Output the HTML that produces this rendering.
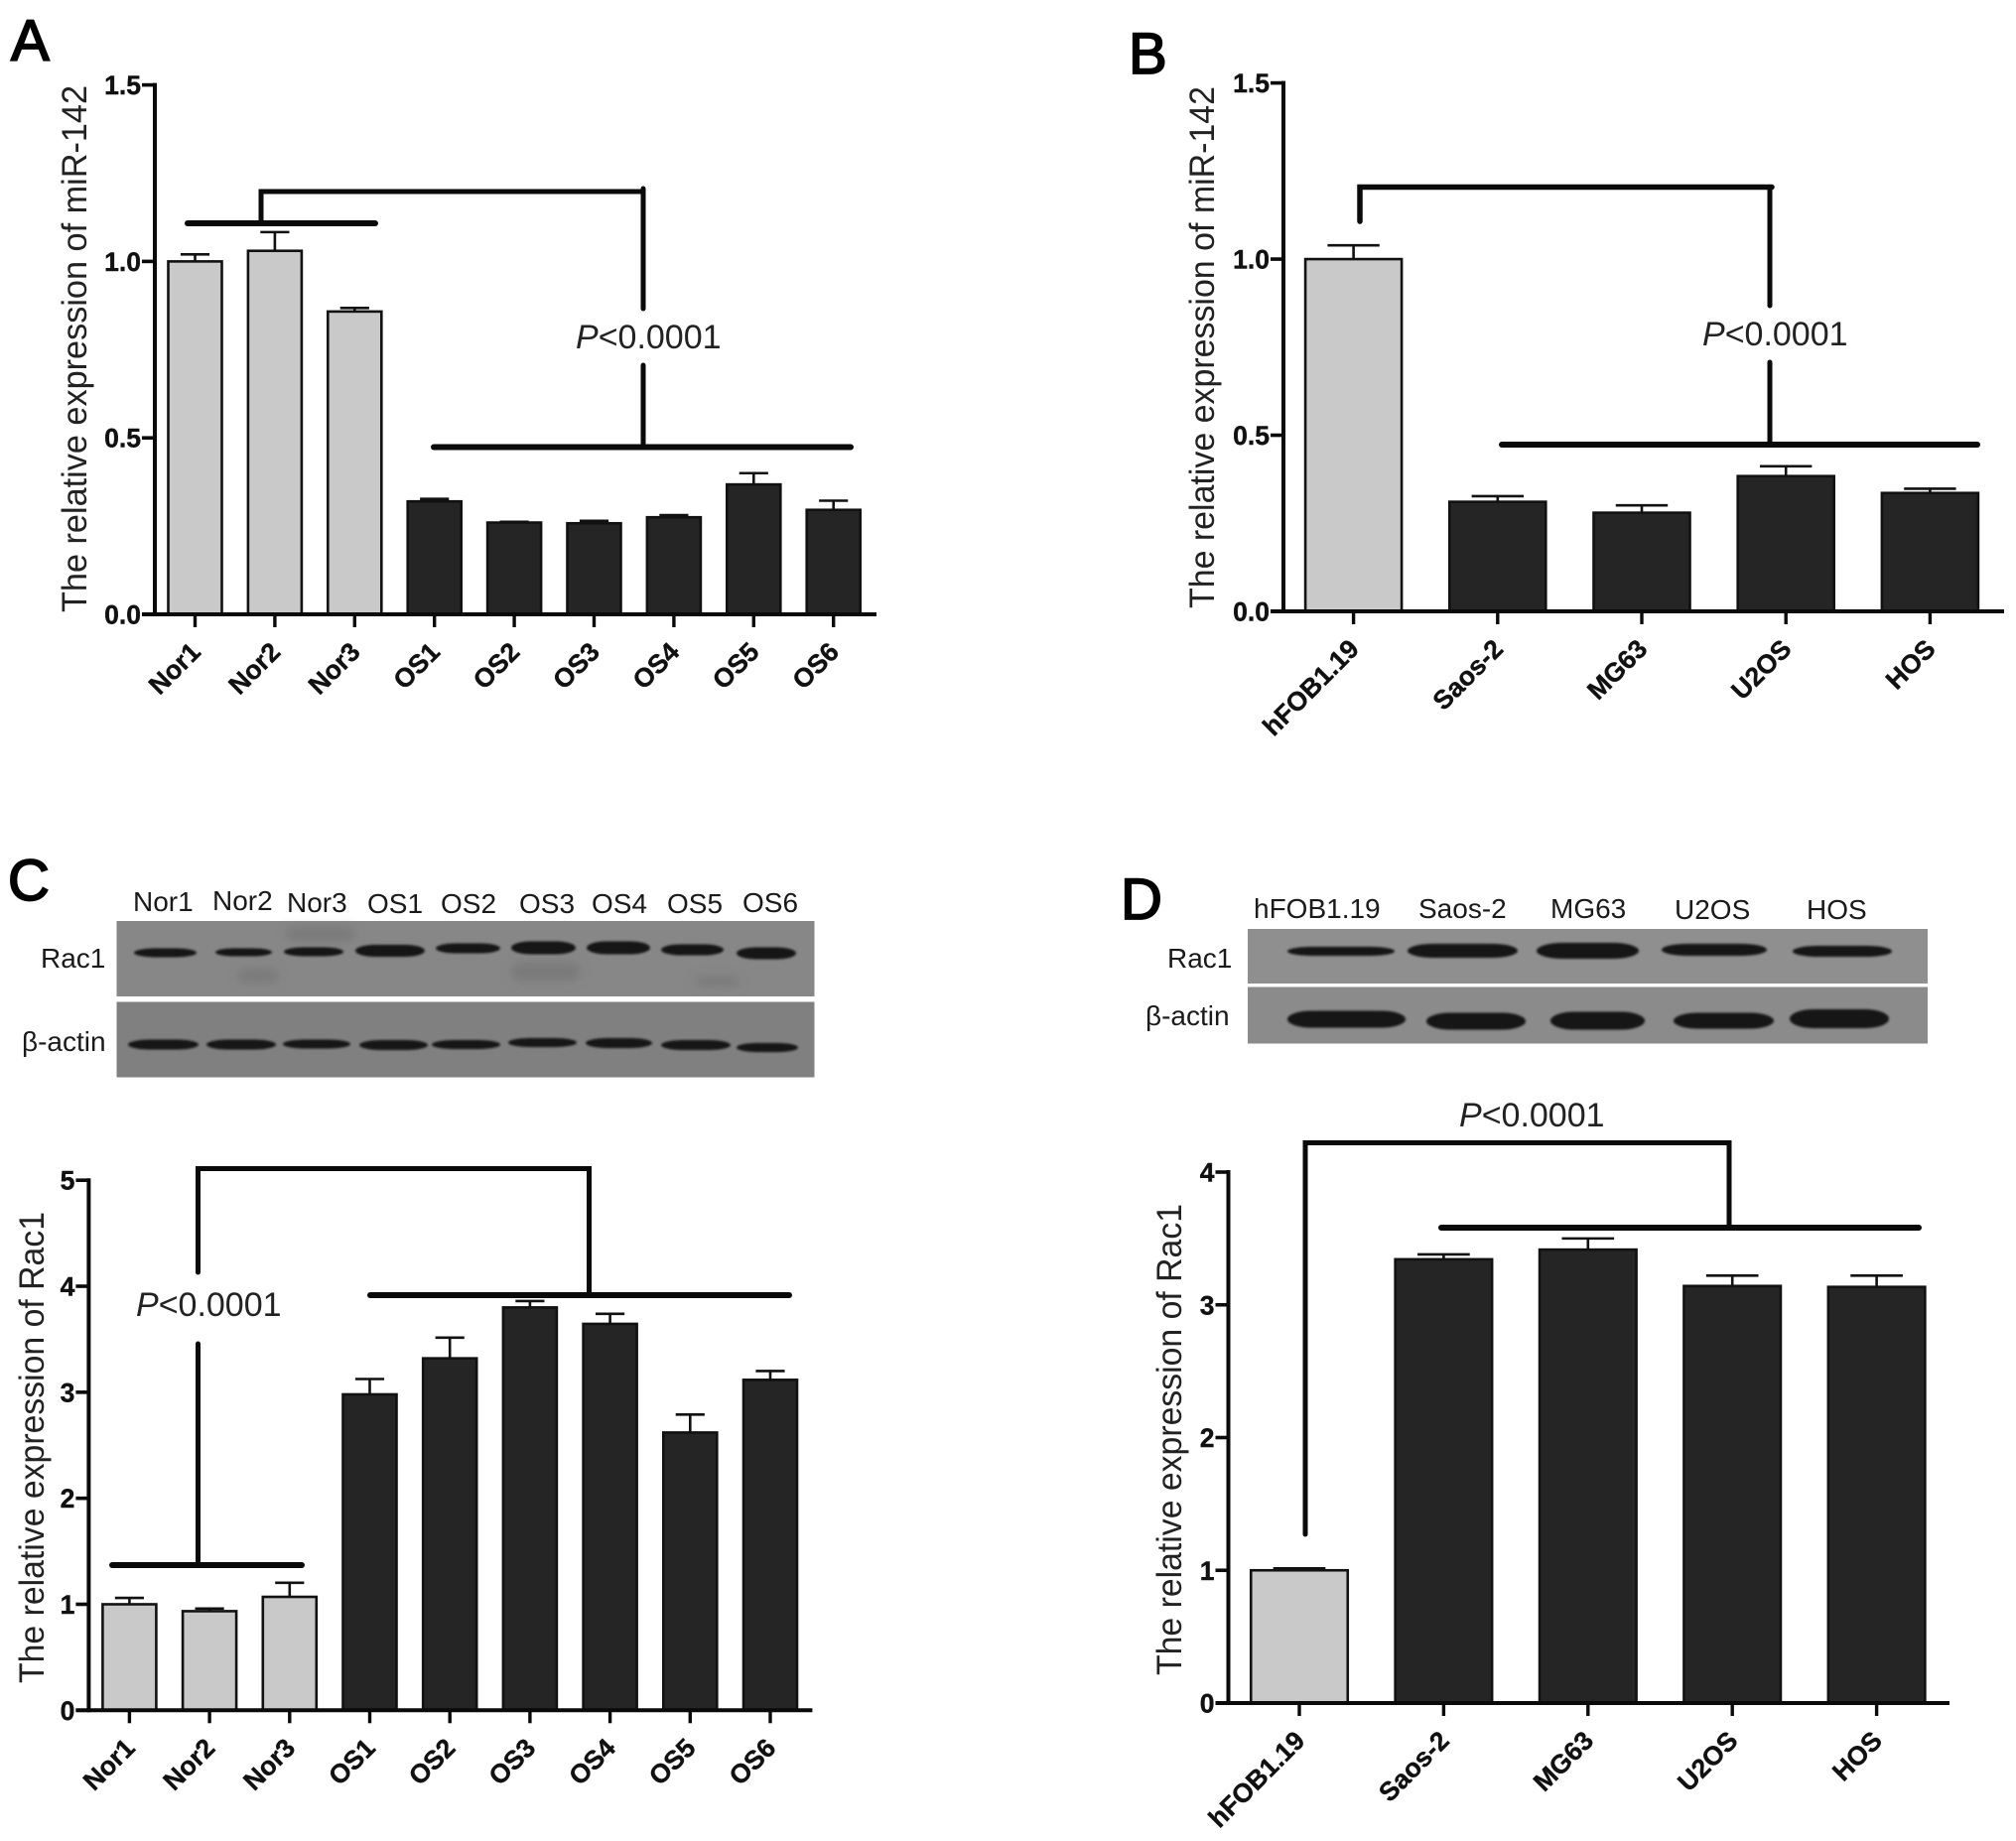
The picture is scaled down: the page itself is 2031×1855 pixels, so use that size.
<!DOCTYPE html>
<html lang="en">
<head>
<meta charset="utf-8">
<title>miR-142 and Rac1 expression in osteosarcoma</title>
<style>
html,body{margin:0;padding:0;background:#fff;}
#figure{position:absolute;left:0;top:0;display:block;}
text{font-family:"Liberation Sans",sans-serif;fill:#111;}
.letter{font-size:58px;stroke:#000;stroke-width:1.8px;fill:#000;}
.ytitle{font-size:35px;fill:#222;}
.ptext{font-size:34px;fill:#222;}
.blotlabel{font-size:28px;fill:#1a1a1a;}
.tick-label{font-size:26.5px;font-weight:bold;fill:#111;stroke:#111;stroke-width:0.4px;}
.cat-label{font-size:26.5px;font-weight:bold;fill:#111;stroke:#111;stroke-width:0.4px;}
.br{stroke:#0a0a0a;stroke-linecap:round;fill:none;}
.band{fill:#141414;}
.smudge{fill:#6f6f6f;opacity:.55;}
</style>
</head>
<body>
<svg id="figure" xmlns="http://www.w3.org/2000/svg" width="2031" height="1855" viewBox="0 0 2031 1855">
<defs>
<filter id="soft" x="-20%" y="-100%" width="140%" height="300%"><feGaussianBlur stdDeviation="1.1"/></filter>
<filter id="haze" x="-40%" y="-100%" width="180%" height="300%"><feGaussianBlur stdDeviation="5"/></filter>
</defs>
<rect x="0" y="0" width="2031" height="1855" fill="#ffffff"/>

<text class="letter" x="11" y="61">A</text>
<text class="letter" x="1137" y="74">B</text>
<text class="letter" x="8" y="907">C</text>
<text class="letter" x="1129" y="926">D</text>

<text class="ytitle" transform="translate(87,617) rotate(-90)" textLength="531" lengthAdjust="spacingAndGlyphs">The relative expression of miR-142</text>
<text class="ytitle" transform="translate(1223,613) rotate(-90)" textLength="526" lengthAdjust="spacingAndGlyphs">The relative expression of miR-142</text>
<text class="ytitle" transform="translate(44,1696) rotate(-90)" textLength="475" lengthAdjust="spacingAndGlyphs">The relative expression of Rac1</text>
<text class="ytitle" transform="translate(1190,1688) rotate(-90)" textLength="475" lengthAdjust="spacingAndGlyphs">The relative expression of Rac1</text>

<g id="charts"></g>

<g>
<path class="br" stroke-width="5" d="M263 224V193H648"/>
<path class="br" stroke-width="6" d="M189 225H378"/>
<path class="br" stroke-width="5" d="M648 190V311"/>
<path class="br" stroke-width="5" d="M648 368V450"/>
<path class="br" stroke-width="6" d="M437 450.500H857"/>
<text class="ptext" x="580" y="351"><tspan font-style="italic">P</tspan>&lt;0.0001</text>
</g>

<g>
<path class="br" stroke-width="5.500" d="M1370 223V188.500H1785"/>
<path class="br" stroke-width="5" d="M1783 189V308"/>
<path class="br" stroke-width="5" d="M1783 365V448"/>
<path class="br" stroke-width="6" d="M1513 448H1992"/>
<text class="ptext" x="1715" y="348"><tspan font-style="italic">P</tspan>&lt;0.0001</text>
</g>

<g>
<path class="br" stroke-width="5" d="M199.500 1282V1177.500H593.500V1305"/>
<path class="br" stroke-width="5" d="M199.500 1354V1573"/>
<path class="br" stroke-width="6" d="M373 1305H795"/>
<path class="br" stroke-width="6" d="M113 1577H304"/>
<text class="ptext" x="137" y="1326"><tspan font-style="italic">P</tspan>&lt;0.0001</text>
</g>

<g>
<path class="br" stroke-width="5" d="M1315 1546V1151.500H1742V1235"/>
<path class="br" stroke-width="6" d="M1452 1237H1933"/>
<text class="ptext" x="1470" y="1135"><tspan font-style="italic">P</tspan>&lt;0.0001</text>
</g>

<g>
<rect x="117.500" y="928" width="703" height="76" fill="#878787"/>
<rect x="117.500" y="1009.500" width="703" height="76" fill="#808080"/>
<g filter="url(#haze)">
<rect class="smudge" x="288" y="934" width="70" height="14" rx="7"/>
<rect class="smudge" x="240" y="976" width="40" height="14" rx="7"/>
<rect class="smudge" x="515" y="970" width="70" height="18" rx="9"/>
<rect class="smudge" x="700" y="984" width="45" height="10" rx="5"/>
</g>
<g filter="url(#soft)">
<rect class="band" x="135" y="955.500" width="63" height="9" rx="22" ry="4.500"/>
<rect class="band" x="217" y="955.500" width="57" height="8" rx="20" ry="4"/>
<rect class="band" x="286" y="954.500" width="60" height="9" rx="20" ry="4.500"/>
<rect class="band" x="358" y="952" width="70" height="12" rx="20" ry="6"/>
<rect class="band" x="439" y="950.500" width="65" height="10" rx="20" ry="5"/>
<rect class="band" x="515" y="948.500" width="65" height="13" rx="20" ry="6.500"/>
<rect class="band" x="591" y="948.500" width="64" height="13" rx="20" ry="6.500"/>
<rect class="band" x="666" y="951.500" width="63" height="11" rx="20" ry="5.500"/>
<rect class="band" x="742" y="954.500" width="60" height="12" rx="20" ry="6"/>
<rect class="band" x="129" y="1047.500" width="71" height="10" rx="22" ry="5"/>
<rect class="band" x="208" y="1047.500" width="70" height="10" rx="22" ry="5"/>
<rect class="band" x="285" y="1047.500" width="68" height="9" rx="22" ry="4.500"/>
<rect class="band" x="362" y="1048" width="69" height="10" rx="22" ry="5"/>
<rect class="band" x="435" y="1048" width="69" height="9" rx="22" ry="4.500"/>
<rect class="band" x="512" y="1046" width="69" height="9" rx="22" ry="4.500"/>
<rect class="band" x="590" y="1046" width="67" height="10" rx="22" ry="5"/>
<rect class="band" x="666" y="1048" width="70" height="10" rx="22" ry="5"/>
<rect class="band" x="742" y="1051" width="62" height="9" rx="20" ry="4.500"/>
</g>
<text class="blotlabel" x="134" y="918">Nor1</text>
<text class="blotlabel" x="214" y="917">Nor2</text>
<text class="blotlabel" x="289" y="919">Nor3</text>
<text class="blotlabel" x="370" y="920">OS1</text>
<text class="blotlabel" x="444" y="920">OS2</text>
<text class="blotlabel" x="523" y="920">OS3</text>
<text class="blotlabel" x="596" y="920">OS4</text>
<text class="blotlabel" x="672" y="920">OS5</text>
<text class="blotlabel" x="748" y="919">OS6</text>
<text class="blotlabel" x="41" y="975">Rac1</text>
<text class="blotlabel" x="22" y="1059">β-actin</text>
</g>

<g>
<rect x="1257" y="936" width="685" height="55" fill="#8f8f8f"/>
<rect x="1257" y="994.500" width="685" height="57" fill="#8b8b8b"/>
<g filter="url(#soft)">
<rect class="band" x="1297" y="954" width="108" height="9" rx="24" ry="4.500"/>
<rect class="band" x="1418" y="951" width="111" height="14" rx="26" ry="7"/>
<rect class="band" x="1548" y="950" width="103" height="16" rx="26" ry="8"/>
<rect class="band" x="1674" y="951" width="106" height="12" rx="26" ry="6"/>
<rect class="band" x="1806" y="953" width="100" height="11" rx="26" ry="5.500"/>
<rect class="band" x="1297" y="1018.500" width="119" height="17" rx="24" ry="8.500"/>
<rect class="band" x="1437" y="1020.500" width="100" height="17" rx="24" ry="8.500"/>
<rect class="band" x="1562" y="1019.500" width="95" height="18" rx="24" ry="9"/>
<rect class="band" x="1686" y="1020.500" width="101" height="16" rx="24" ry="8"/>
<rect class="band" x="1803" y="1017" width="100" height="19" rx="24" ry="9.500"/>
</g>
<text class="blotlabel" x="1263" y="925">hFOB1.19</text>
<text class="blotlabel" x="1429" y="925">Saos-2</text>
<text class="blotlabel" x="1562" y="925">MG63</text>
<text class="blotlabel" x="1687" y="926">U2OS</text>
<text class="blotlabel" x="1820" y="926">HOS</text>
<text class="blotlabel" x="1176" y="975">Rac1</text>
<text class="blotlabel" x="1154" y="1033">β-actin</text>
</g>
</svg>

<script>
// Panel A data
const panelACategories = ["Nor1","Nor2","Nor3","OS1","OS2","OS3","OS4","OS5","OS6"];
const panelAValues = [1.00,1.03,0.858,0.32,0.26,0.258,0.275,0.368,0.296];
const panelAErrors = [0.02,0.053,0.01,0.007,0.002,0.007,0.006,0.032,0.026];
const panelAGroups = ["normal","normal","normal","tumor","tumor","tumor","tumor","tumor","tumor"];
const panelATickValues = [0,0.5,1,1.5];
const panelATickLabels = ["0.0","0.5","1.0","1.5"];

// Panel B data
const panelBCategories = ["hFOB1.19","Saos-2","MG63","U2OS","HOS"];
const panelBValues = [1.00,0.311,0.28,0.384,0.336];
const panelBErrors = [0.039,0.016,0.021,0.028,0.012];
const panelBGroups = ["normal","tumor","tumor","tumor","tumor"];
const panelBTickValues = [0,0.5,1,1.5];
const panelBTickLabels = ["0.0","0.5","1.0","1.5"];

// Panel C data
const panelCCategories = ["Nor1","Nor2","Nor3","OS1","OS2","OS3","OS4","OS5","OS6"];
const panelCValues = [1.00,0.935,1.07,2.98,3.32,3.80,3.645,2.62,3.117];
const panelCErrors = [0.06,0.025,0.133,0.145,0.195,0.06,0.095,0.17,0.083];
const panelCGroups = ["normal","normal","normal","tumor","tumor","tumor","tumor","tumor","tumor"];
const panelCTickValues = [0,1,2,3,4,5];
const panelCTickLabels = ["0","1","2","3","4","5"];

// Panel D data
const panelDCategories = ["hFOB1.19","Saos-2","MG63","U2OS","HOS"];
const panelDValues = [1.00,3.343,3.416,3.142,3.135];
const panelDErrors = [0.015,0.037,0.084,0.078,0.085];
const panelDGroups = ["normal","tumor","tumor","tumor","tumor"];
const panelDTickValues = [0,1,2,3,4];
const panelDTickLabels = ["0","1","2","3","4"];

const SVG_NS = "http://www.w3.org/2000/svg";
const chartRoot = document.getElementById("charts");

function shape(tag, parent) {
  const el = document.createElementNS(SVG_NS, tag);
  parent.appendChild(el);
  return el;
}
function line(parent, x1, y1, x2, y2, width, color) {
  const el = shape("line", parent);
  el.setAttribute("x1", x1);
  el.setAttribute("y1", y1);
  el.setAttribute("x2", x2);
  el.setAttribute("y2", y2);
  el.setAttribute("stroke", color);
  el.setAttribute("stroke-width", width);
  return el;
}

function drawPanel(p) {
  const yScale = function (v) { return p.y0 - (v / p.yMax) * (p.y0 - p.yTop); };
  const xScale = function (i) { return p.x0 + i * p.step; };

  const group = shape("g", chartRoot);
  
  

  p.categories.forEach(function (cat, i) {
    const cx = xScale(i);
    const top = yScale(p.values[i]);
    const errTop = yScale(p.values[i] + p.errors[i]);

    const stem = line(group, cx, top, cx, errTop, 2.6, "#111");
    
    

    const cap = line(group, cx - p.barWidth * 0.27, errTop, cx + p.barWidth * 0.27, errTop, 2.6, "#111");
    
    

    const bar = shape("rect", group);
    bar.setAttribute("x", cx - p.barWidth / 2);
    bar.setAttribute("y", top);
    bar.setAttribute("width", p.barWidth);
    bar.setAttribute("height", p.y0 - top);
    bar.setAttribute("fill", p.groups[i] === "normal" ? "#c9c9c9" : "#252525");
    bar.setAttribute("stroke", "#111");
    bar.setAttribute("stroke-width", "2.6");
    
    

    const tick = line(group, cx, p.y0, cx, p.y0 + 13, 3.4, "#0a0a0a");
    
    

    const label = shape("text", group);
    label.setAttribute("class", "cat-label");
    label.setAttribute("text-anchor", "end");
    label.setAttribute("transform", "translate(" + (cx + 7) + "," + (p.y0 + 39.5) + ") rotate(-45)");
    label.textContent = cat;
    
    
  });

  p.tickValues.forEach(function (v, i) {
    const y = yScale(v);
    const tick = line(group, p.axisX - 13, y, p.axisX, y, 3.6, "#0a0a0a");
    
    

    const label = shape("text", group);
    label.setAttribute("class", "tick-label");
    label.setAttribute("text-anchor", "end");
    label.setAttribute("x", p.axisX - 14);
    label.setAttribute("y", y + 9.5);
    label.textContent = p.tickLabels[i];
    
    
  });

  const yAxis = line(group, p.axisX, yScale(p.yMax) - 2, p.axisX, p.y0 + 2, 4, "#0a0a0a");
  
  

  const xAxis = line(group, p.axisX - 13, p.y0, p.axisEnd, p.y0, 4, "#0a0a0a");
  
  
}

drawPanel({
  id: "a", categories: panelACategories, values: panelAValues, errors: panelAErrors, groups: panelAGroups,
  tickValues: panelATickValues, tickLabels: panelATickLabels,
  yMax: 1.5, y0: 619, yTop: 85.6, x0: 196.5, step: 80.4, barWidth: 54, axisX: 156, axisEnd: 883
});
drawPanel({
  id: "b", categories: panelBCategories, values: panelBValues, errors: panelBErrors, groups: panelBGroups,
  tickValues: panelBTickValues, tickLabels: panelBTickLabels,
  yMax: 1.5, y0: 616, yTop: 83.6, x0: 1363.6, step: 145.2, barWidth: 97, axisX: 1293, axisEnd: 2019
});
drawPanel({
  id: "c", categories: panelCCategories, values: panelCValues, errors: panelCErrors, groups: panelCGroups,
  tickValues: panelCTickValues, tickLabels: panelCTickLabels,
  yMax: 5, y0: 1723.3, yTop: 1189.2, x0: 130.4, step: 80.7, barWidth: 54, axisX: 89.4, axisEnd: 818.4
});
drawPanel({
  id: "d", categories: panelDCategories, values: panelDValues, errors: panelDErrors, groups: panelDGroups,
  tickValues: panelDTickValues, tickLabels: panelDTickLabels,
  yMax: 4, y0: 1716, yTop: 1181, x0: 1309, step: 145.4, barWidth: 97.5, axisX: 1237.5, axisEnd: 1964
});
</script>
</body>
</html>
